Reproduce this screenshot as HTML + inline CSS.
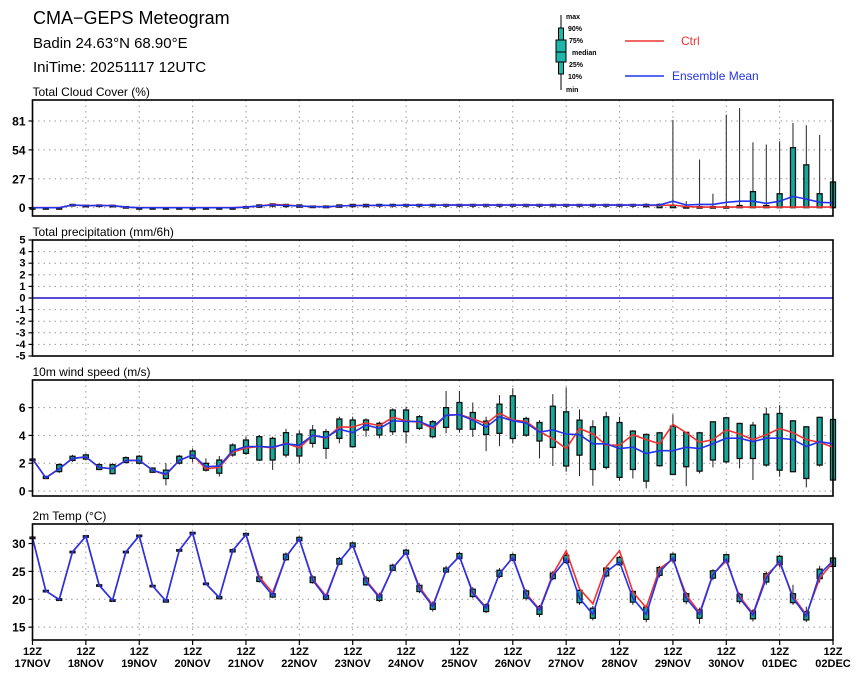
<!DOCTYPE html>
<html><head><meta charset="utf-8">
<style>
body{margin:0;background:#fff;}
svg{display:block;font-family:"Liberation Sans",sans-serif;}
.t{font-weight:bold;font-size:11px;}
</style></head>
<body>
<svg id="chart" width="860" height="678" viewBox="0 0 860 678" xmlns="http://www.w3.org/2000/svg">
<text x="33" y="24" font-size="18">CMA−GEPS Meteogram</text>
<text x="33" y="48" font-size="15">Badin 24.63°N 68.90°E</text>
<text x="33" y="72" font-size="15">IniTime: 20251117 12UTC</text>
<g>
  <line x1="561" y1="15" x2="561" y2="90" stroke="#000" stroke-width="1"/>
  <rect x="558.5" y="28" width="5" height="46" fill="#1fb5a8" stroke="#000"/>
  <rect x="556" y="40" width="10" height="22" fill="#1fb5a8" stroke="#000"/>
  <line x1="556" y1="52" x2="566" y2="52" stroke="#000"/>
  <text x="566" y="19" font-size="7" font-weight="bold">max</text>
  <text x="568" y="31" font-size="7" font-weight="bold">90%</text>
  <text x="569" y="43" font-size="7" font-weight="bold">75%</text>
  <text x="572" y="55" font-size="7" font-weight="bold">median</text>
  <text x="569" y="67" font-size="7" font-weight="bold">25%</text>
  <text x="568" y="79" font-size="7" font-weight="bold">10%</text>
  <text x="566" y="92" font-size="7" font-weight="bold">min</text>
  <line x1="625" y1="41" x2="664" y2="41" stroke="#ee3333" stroke-width="1.5"/>
  <text x="681" y="45" font-size="12" fill="#ee3333">Ctrl</text>
  <line x1="625" y1="76" x2="664" y2="76" stroke="#2233ee" stroke-width="1.5"/>
  <text x="672" y="80" font-size="12" fill="#2233ee">Ensemble Mean</text>
</g>
<g id="plots"></g>
</svg>
<script>
const dayLabels=["17NOV","18NOV","19NOV","20NOV","21NOV","22NOV","23NOV","24NOV","25NOV","26NOV","27NOV","28NOV","29NOV","30NOV","01DEC","02DEC"];
const cloudTicks=[0,27,54,81];
const precTicks=[-5,-4,-3,-2,-1,0,1,2,3,4,5];
const windTicks=[0,2,4,6];
const tempTicks=[15,20,25,30];

const cloudMean=[0,0,0,2.5,1.8,2,1.8,0.5,0,0,0,0,0,0,0,0,0.5,1.5,2.5,2,1.5,1,0.8,1.5,2,2,2.2,2.2,2.3,2.3,2.3,2.4,2.4,2.4,2.4,2.4,2.4,2.4,2.4,2.4,2.4,2.4,2.4,2.4,2.4,2.4,2.5,2.5,6,2.5,3,3,5,6,6,4,6,10.5,8,5,4.5];
const cloudCtrl=[0,0,0,2.5,1.8,2,1.8,0.5,0,0,0,0,0,0,0,0,0.5,1.5,3,2.5,1.5,1,0.8,1.5,2,2,2.2,2.2,2.3,2.3,2.3,2.4,2.4,2.4,2.4,2.4,2.4,2.4,2.4,2.4,2.4,2.4,2.4,2.4,2.4,2.4,2.2,2,2.5,1,0.5,0.5,0.5,0.5,0.5,0.5,0.5,0.5,0.5,0.5,0.5];
const cloudMin=[0,0,0,1.5,1,1,1,0,0,0,0,0,0,0,0,0,0,0,0,0,0,0,0,0,0,0,0,0,0,0,0,0,0,0,0,0,0,0,0,0,0,0,0,0,0,0,0,0,0,0,0,0,0,0,0,0,0,0,0,0,0];
const cloudQ1=[0,0,0,2,1.5,1.5,1.5,0,0,0,0,0,0,0,0,0,0,0.5,1.5,1,0.5,0.5,0,0.5,1,1,1.5,1.5,1.5,1.5,1.5,1.5,1.5,1.5,1.5,1.5,1.5,1.5,1.5,1.5,1.5,1.5,1.5,1.5,1.5,1.5,1,0,0,0,0,0,0,0,0,0,0,0,0,0,0];
const cloudQ3=[0,0,0,3,2.2,2.5,2.2,1,0,0,0,0,0,0,0,0,1,2.5,3.5,3,2.5,1.5,1.5,2.5,3,3,3,3,3,3,3,3,3,3,3,3,3,3,3,3,3,3,3,3,3,3,3,3,2,1,1,1,1,2,15,2,13,56,40,13,24];
const cloudMax=[0,0,0,3.5,2.5,3,2.5,1.5,0,0,0,0,0,0,0,0,1.5,3,4,3.5,3,2,2,3,3.5,3.5,3.5,3.5,3.5,3.5,3.5,3.5,3.5,3.5,3.5,3.5,3.5,3.5,3.5,3.5,3.5,3.5,3.5,3.5,3.5,3.5,4,4,82,6,45,13,87,93,61,59,62,79,77,68,24];

const precMean=new Array(61).fill(0);

const windMean=[2.3,0.95,1.6,2.35,2.45,1.7,1.6,2.2,2.2,1.5,1.2,2.2,2.6,1.75,1.8,2.9,3.2,3.2,3.15,3.4,3.3,4.0,3.85,4.45,4.2,4.75,4.5,5.05,5.0,5.0,4.6,5.45,5.5,5.1,4.6,5.35,5.05,4.9,4.25,4.4,4.1,4.05,3.4,3.4,3.05,3.15,2.7,2.9,2.9,3.15,3.05,3.4,3.8,3.8,3.55,3.8,3.8,3.7,3.2,3.55,3.4];
const windCtrl=[2.3,0.95,1.6,2.35,2.45,1.7,1.6,2.2,2.2,1.5,1.15,2.2,2.6,1.6,1.7,2.8,3.1,3.2,3.1,3.45,3.1,4.0,3.8,4.6,4.6,4.9,4.7,5.3,5.05,4.95,4.5,5.45,5.5,5.2,4.85,5.6,5.1,5.0,4.3,3.75,3.05,4.5,4.1,3.3,3.3,4.05,3.7,3.4,4.8,4.2,3.5,3.7,4.4,4.1,3.7,4.05,4.5,4.2,3.7,3.5,3.15];
const windMin=[2.3,0.85,1.3,2.1,2.2,1.5,1.2,2.0,1.9,1.3,0.4,1.9,2.07,1.4,1.04,2.47,2.59,2.16,1.52,2.4,1.99,3.12,2.31,3.43,3.12,3.91,3.79,4.03,3.43,4.39,3.79,4.15,4.2,3.9,2.87,3.23,3.42,3.9,2.35,1.8,1.39,1.07,0.38,1.55,0.74,0.9,0.19,1.75,1.26,0.35,1.26,1.7,2.0,1.63,0.79,1.75,1.03,1.39,0.26,1.75,0.79];
const windQ1=[2.3,0.9,1.4,2.2,2.3,1.55,1.25,2.05,2.0,1.35,0.9,2.0,2.35,1.5,1.28,2.59,2.71,2.23,2.23,2.59,2.52,3.43,3.07,3.79,3.19,4.39,4.03,4.27,4.27,4.51,3.91,4.58,4.45,4.45,4.07,4.15,3.78,4.02,3.6,3.14,1.8,2.58,1.55,1.7,0.98,1.55,0.71,1.82,1.19,1.75,1.43,2.23,2.1,2.34,2.34,1.87,1.5,1.39,0.9,1.87,0.79];
const windQ3=[2.3,1.05,1.9,2.5,2.6,1.9,1.9,2.4,2.5,1.65,1.5,2.5,2.88,1.99,2.23,3.31,3.67,3.91,3.79,4.2,4.1,4.39,4.27,5.18,5.11,5.11,4.87,5.83,5.83,5.35,4.99,6.0,6.37,5.65,5.03,6.25,6.85,5.22,4.93,6.1,5.7,5.1,4.62,5.34,4.93,4.31,4.07,4.19,4.67,4.22,4.19,4.98,5.27,4.86,4.74,5.53,5.58,5.05,4.62,5.3,5.15];
const windMax=[2.3,1.1,2.0,2.6,2.7,2.0,2.0,2.5,2.6,1.7,2.0,2.6,3.07,2.35,2.52,3.43,3.91,4.03,3.91,4.47,4.35,4.75,4.47,5.35,5.35,5.23,4.99,5.95,6.07,5.47,5.11,7.2,7.2,6.37,5.35,6.9,7.4,5.35,5.1,6.97,7.45,5.87,5.1,5.7,5.34,4.38,4.14,4.26,5.5,4.26,4.26,4.98,5.34,4.91,4.98,6.0,6.18,5.1,4.67,5.34,5.15];

const tempMean=[31.05,21.5,19.95,28.5,31.3,22.5,19.8,28.5,31.4,22.4,19.7,28.8,31.9,22.8,20.3,28.7,31.6,23.6,20.7,27.6,30.8,23.4,20.3,26.8,29.7,23.2,20.3,25.6,28.4,21.9,18.7,25.2,27.7,21.1,18.4,24.6,27.5,20.8,18.0,24.2,27.2,20.2,17.3,24.9,26.7,20.2,17.3,24.9,27.4,20.2,17.3,24.4,27.2,20.2,17.2,23.8,26.9,20.2,17.0,24.5,26.9];
const tempCtrl=[31.05,21.5,19.95,28.5,31.3,22.5,19.8,28.5,31.4,22.4,19.7,28.8,31.9,22.8,20.3,28.7,31.6,24.0,21.2,27.6,30.8,23.6,20.6,26.8,29.7,23.4,20.5,25.6,28.4,22.2,18.9,25.2,27.7,21.3,18.5,24.6,27.5,21.0,18.2,24.5,28.7,21.9,19.2,25.8,28.7,21.3,18.5,25.5,27.2,20.8,17.6,24.5,26.9,20.5,17.4,24.3,26.6,20.5,17.2,23.8,26.6];
const tempMin=[30.9,21.3,19.7,28.3,31.1,22.3,19.6,28.3,31.2,22.2,19.4,28.6,31.7,22.6,20.0,28.4,31.4,23.0,20.2,26.9,30.3,22.8,19.8,26.1,29.2,22.4,19.5,25.0,27.9,21.1,17.8,24.7,27.1,20.2,17.5,23.8,26.8,19.8,16.8,23.4,26.3,19.0,16.2,23.9,26.0,19.0,15.9,23.9,26.6,19.1,15.6,23.4,26.4,19.2,16.0,22.6,25.7,19.0,15.9,23.0,25.0];
const tempQ1=[30.95,21.4,19.8,28.4,31.2,22.4,19.7,28.4,31.3,22.3,19.5,28.7,31.8,22.7,20.1,28.5,31.5,23.2,20.4,27.1,30.5,23.0,20.0,26.3,29.4,22.6,19.8,25.2,28.1,21.4,18.2,24.9,27.3,20.5,17.8,24.1,27.0,20.2,17.3,23.7,26.6,19.4,16.6,24.2,26.2,19.5,16.4,24.3,26.9,19.6,16.6,23.8,26.7,19.6,16.5,23.1,26.2,19.4,16.3,23.7,25.9];
const tempQ3=[31.15,21.6,20.1,28.6,31.4,22.6,19.9,28.6,31.5,22.5,19.9,28.9,32.0,22.9,20.5,28.9,31.8,24.0,21.0,28.1,31.1,24.0,20.7,27.3,30.1,23.8,20.8,26.1,28.8,22.5,19.3,25.6,28.2,21.8,19.0,25.2,28.0,21.5,18.7,24.7,27.9,21.6,18.4,25.6,27.5,21.4,18.6,25.7,28.1,21.0,18.1,25.1,28.0,20.9,17.9,24.6,27.7,21.0,17.8,25.4,27.4];
const tempMax=[31.2,21.7,20.2,28.7,31.5,22.7,20.0,28.7,31.6,22.6,20.0,29.0,32.1,23.0,20.7,29.1,32.0,24.3,21.2,28.4,31.3,24.3,21.0,27.6,30.3,24.2,21.2,26.4,29.1,22.9,19.6,26.0,28.5,22.2,19.3,25.6,28.3,21.8,19.0,25.1,28.4,22.0,18.8,25.9,27.8,21.7,19.0,26.0,28.4,21.3,18.5,25.4,28.2,21.2,18.2,25.0,28.0,22.6,18.7,26.0,27.8];

const X0=32.5,X1=833,N=60;
const NS="http://www.w3.org/2000/svg";
const plots=document.getElementById('plots');
function xs(i){return X0+(X1-X0)*i/N;}
function mk(tag,attrs,parent){const e=document.createElementNS(NS,tag);for(const k in attrs)e.setAttribute(k,attrs[k]);(parent||plots).appendChild(e);return e;}
function lineGen(vals,ys){return vals.map((v,i)=>(i?'L':'M')+xs(i).toFixed(1)+','+ys(v).toFixed(1)).join('');}

const panels=[
 {name:'cloud',title:'Total Cloud Cover (%)',top:100,bot:216,vmin:-7.8,vmax:100.6,ticks:cloudTicks,
  mean:cloudMean,ctrl:cloudCtrl,mn:cloudMin,q1:cloudQ1,q3:cloudQ3,mx:cloudMax},
 {name:'precip',title:'Total precipitation (mm/6h)',top:240,bot:356,vmin:-5,vmax:5,ticks:precTicks,
  mean:precMean,ctrl:precMean},
 {name:'wind',title:'10m wind speed (m/s)',top:380,bot:496,vmin:-0.36,vmax:7.99,ticks:windTicks,
  mean:windMean,ctrl:windCtrl,mn:windMin,q1:windQ1,q3:windQ3,mx:windMax},
 {name:'temp',title:'2m Temp (°C)',top:524,bot:640,vmin:12.7,vmax:33.5,ticks:tempTicks,
  mean:tempMean,ctrl:tempCtrl,mn:tempMin,q1:tempQ1,q3:tempQ3,mx:tempMax}
];

panels.forEach(p=>{
  const ys=v=>p.bot-(v-p.vmin)/(p.vmax-p.vmin)*(p.bot-p.top);
  const g=mk('g',{});
  
  
  const t=mk('text',{x:X0,y:p.top-4,'font-size':12},g);t.textContent=p.title;
  
  
  for(let d=1;d<dayLabels.length-1;d++){
    const gl=mk('line',{x1:xs(d*4),x2:xs(d*4),y1:p.top,y2:p.bot,stroke:'#999','stroke-dasharray':'1.5,4','stroke-width':1},g);
    
    
  }
  p.ticks.forEach(tv=>{
    const y=ys(tv);
    const gl=mk('line',{x1:X0,x2:X1,y1:y,y2:y,stroke:'#999','stroke-dasharray':'1.5,4','stroke-width':1},g);
    
    
    mk('line',{x1:X0-4,x2:X0,y1:y,y2:y,stroke:'#000','stroke-width':1.2},g);
    const tl=mk('text',{x:X0-7,y:y+(p.name==='precip'?3.5:4.5),'text-anchor':'end','font-size':p.name==='precip'?11:12,'font-weight':'bold'},g);
    tl.textContent=tv;
    
    
  });
  if(p.mn){
    for(let i=0;i<=N;i++){
      const x=xs(i);
      const w=mk('line',{x1:x,x2:x,y1:ys(p.mx[i]),y2:ys(p.mn[i]),stroke:'#222','stroke-width':1},g);
      
      
      const y3=ys(p.q3[i]),y1=ys(p.q1[i]);
      const b=mk('rect',{x:x-2.5,y:y3,width:5,height:Math.max(1.5,y1-y3),fill:'#17a89c',stroke:'#111','stroke-width':1.3},g);
      
      
    }
  }
  const c=mk('path',{d:lineGen(p.ctrl,ys),fill:'none',stroke:'#ee3333','stroke-width':1.6},g);
  
  
  const m=mk('path',{d:lineGen(p.mean,ys),fill:'none',stroke:'#2233ee','stroke-width':1.6},g);
  
  
  const fr=mk('rect',{x:X0,y:p.top,width:X1-X0,height:p.bot-p.top,fill:'none',stroke:'#000','stroke-width':1.6},g);
  
  
});

dayLabels.forEach((d,k)=>{
  const x=xs(k*4);
  mk('line',{x1:x,x2:x,y1:640,y2:645,stroke:'#000','stroke-width':1.2});
  const a=mk('text',{x:x,y:655,'text-anchor':'middle',class:'t','font-size':10});
  a.textContent='12Z';
  
  
  const b=mk('text',{x:x,y:667,'text-anchor':'middle',class:'t','font-size':10});
  b.textContent=d;
  
  
});
</script>
</body></html>
